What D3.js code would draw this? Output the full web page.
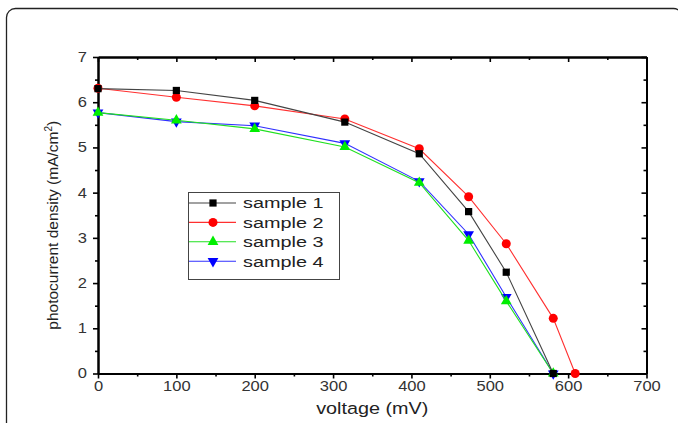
<!DOCTYPE html>
<html>
<head>
<meta charset="utf-8">
<script src="https://cdn.jsdelivr.net/npm/d3@7"></script>
<style>
  body { margin: 0; background: #fff; }
  svg { display: block; font-family: Arial, "Liberation Sans", sans-serif; }
</style>
</head>
<body>
<div id="chart"></div>
<script>
// voltage (mV) for each sample
const volts1 = [0, 100, 200, 315, 410, 473, 521, 581];
const volts2 = [0, 100, 200, 315, 410, 473, 521, 581, 609];
const volts3 = [0, 100, 200, 315, 410, 473, 521, 581];
const volts4 = [0, 100, 200, 315, 410, 473, 521, 581];

// photocurrent density (mA/cm2)
const sample1 = [6.30, 6.26, 6.04, 5.56, 4.86, 3.58, 2.24, 0];
const sample2 = [6.31, 6.11, 5.92, 5.63, 4.97, 3.91, 2.87, 1.22, 0];
const sample3 = [5.77, 5.60, 5.41, 5.01, 4.22, 2.94, 1.60, 0];
const sample4 = [5.77, 5.57, 5.48, 5.09, 4.25, 3.08, 1.69, 0];

const seriesNames = ["sample 1", "sample 2", "sample 3", "sample 4"];
const xTicks = [0, 100, 200, 300, 400, 500, 600, 700];
const yTicks = [0, 1, 2, 3, 4, 5, 6, 7];

const W = 678, H = 423;
const mLeft = 98, mRight = 646.5, mTop = 57, mBottom = 373.5;
const sx = 1.18; // the original text looks stretched sideways

const svg = d3.select("#chart").append("svg")
  .attr("width", W).attr("height", H);

// outer rounded frame
svg.append("rect")
  .attr("x", 6.5).attr("y", 8.5)
  .attr("width", 676).attr("height", 440)
  .attr("rx", 9)
  .attr("fill", "none").attr("stroke", "#222").attr("stroke-width", 1.3);

const x = d3.scaleLinear().domain([0, 700]).range([mLeft, mRight]);
const y = d3.scaleLinear().domain([0, 7]).range([mBottom, mTop]);

const minorX = d3.range(50, 700, 100);
const minorY = d3.range(0.5, 7, 1);

// bottom axis: ticks outward
const gx = svg.append("g").attr("transform", `translate(0,${mBottom})`)
  .call(d3.axisBottom(x).tickValues(xTicks).tickSize(5).tickPadding(3).tickSizeOuter(0));
svg.append("g").attr("transform", `translate(0,${mBottom})`)
  .call(d3.axisBottom(x).tickValues(minorX).tickSize(3).tickFormat("").tickSizeOuter(0));

// left axis: ticks outward
const gy = svg.append("g").attr("transform", `translate(${mLeft},0)`)
  .call(d3.axisLeft(y).tickValues(yTicks).tickFormat(d3.format("d")).tickSize(5).tickPadding(6).tickSizeOuter(0));
svg.append("g").attr("transform", `translate(${mLeft},0)`)
  .call(d3.axisLeft(y).tickValues(minorY).tickSize(3).tickFormat("").tickSizeOuter(0));

// top axis: ticks inward
svg.append("g").attr("transform", `translate(0,${mTop})`)
  .call(d3.axisBottom(x).tickValues(xTicks).tickSize(5).tickFormat("").tickSizeOuter(0));
svg.append("g").attr("transform", `translate(0,${mTop})`)
  .call(d3.axisBottom(x).tickValues(minorX).tickSize(3).tickFormat("").tickSizeOuter(0));

// right axis: ticks inward
svg.append("g").attr("transform", `translate(${mRight},0)`)
  .call(d3.axisLeft(y).tickValues(yTicks).tickSize(5).tickFormat("").tickSizeOuter(0));
svg.append("g").attr("transform", `translate(${mRight},0)`)
  .call(d3.axisLeft(y).tickValues(minorY).tickSize(3).tickFormat("").tickSizeOuter(0));

svg.selectAll(".domain").attr("stroke", "#000").attr("stroke-width", 2);
svg.selectAll(".tick line").attr("stroke", "#000").attr("stroke-width", 1.6);
svg.selectAll(".tick text").attr("fill", "#333").style("font-size", "14px")
  .style("font-family", "Arial, 'Liberation Sans', sans-serif");
gx.selectAll(".tick text").attr("transform", `scale(${sx},1)`);
gy.selectAll(".tick text").attr("x", -11 / sx).attr("transform", `scale(${sx},1)`);

// axis titles
const xMid = (mLeft + mRight) / 2;
svg.append("text")
  .attr("x", xMid / 1.2).attr("y", 414)
  .attr("transform", "scale(1.2,1)")
  .attr("text-anchor", "middle").attr("fill", "#222")
  .style("font-size", "16.5px")
  .text("voltage (mV)");

const yl = svg.append("text")
  .attr("transform", `translate(58,${(mTop + mBottom) / 2 + 10}) rotate(-90)`)
  .attr("text-anchor", "middle").attr("fill", "#222")
  .style("font-size", "15.5px");
yl.append("tspan").text("photocurrent density (mA/cm");
yl.append("tspan").attr("dy", -6).style("font-size", "10px").text("2");
yl.append("tspan").attr("dy", 6).text(")");

const series = [
  { name: seriesNames[0], xs: volts1, ys: sample1, color: "#000", line: "#444", shape: d3.symbolSquare, size: 52, rot: 0 },
  { name: seriesNames[1], xs: volts2, ys: sample2, color: "#ff0000", line: "#ff3030", shape: d3.symbolCircle, size: 64, rot: 0 },
  { name: seriesNames[2], xs: volts3, ys: sample3, color: "#00ee00", line: "#20e020", shape: d3.symbolTriangle, size: 50, rot: 0 },
  { name: seriesNames[3], xs: volts4, ys: sample4, color: "#0000ff", line: "#3030ff", shape: d3.symbolTriangle, size: 50, rot: 180 }
];

const line = d3.line().x(d => x(d[0])).y(d => y(d[1]));
const plot = svg.append("g");

// draw in reverse so sample 1 sits on top like the reference
series.slice().reverse().forEach(s => {
  const pts = s.xs.map((v, i) => [v, s.ys[i]]);
  plot.append("path").datum(pts)
    .attr("d", line).attr("fill", "none")
    .attr("stroke", s.line).attr("stroke-width", 1.1);
  plot.selectAll(null).data(pts).enter().append("path")
    .attr("d", d3.symbol().type(s.shape).size(s.size))
    .attr("transform", d => `translate(${x(d[0])},${y(d[1])}) rotate(${s.rot})`)
    .attr("fill", s.color);
});

// legend
const lg = svg.append("g");
lg.append("rect")
  .attr("x", 188.5).attr("y", 192.5).attr("width", 151).attr("height", 87)
  .attr("fill", "#fff").attr("stroke", "#444").attr("stroke-width", 1);
series.forEach((s, i) => {
  const cy = 203 + i * 19.4;
  lg.append("line").attr("x1", 189).attr("x2", 236).attr("y1", cy).attr("y2", cy)
    .attr("stroke", s.line).attr("stroke-width", 1.1);
  lg.append("path")
    .attr("d", d3.symbol().type(s.shape).size(s.size))
    .attr("transform", `translate(213,${cy}) rotate(${s.rot})`)
    .attr("fill", s.color);
  lg.append("text").attr("x", 243 / 1.28).attr("y", cy + 5.5)
    .attr("transform", "scale(1.28,1)")
    .attr("fill", "#222").style("font-size", "15.5px")
    .text(s.name);
});
</script>
</body>
</html>
